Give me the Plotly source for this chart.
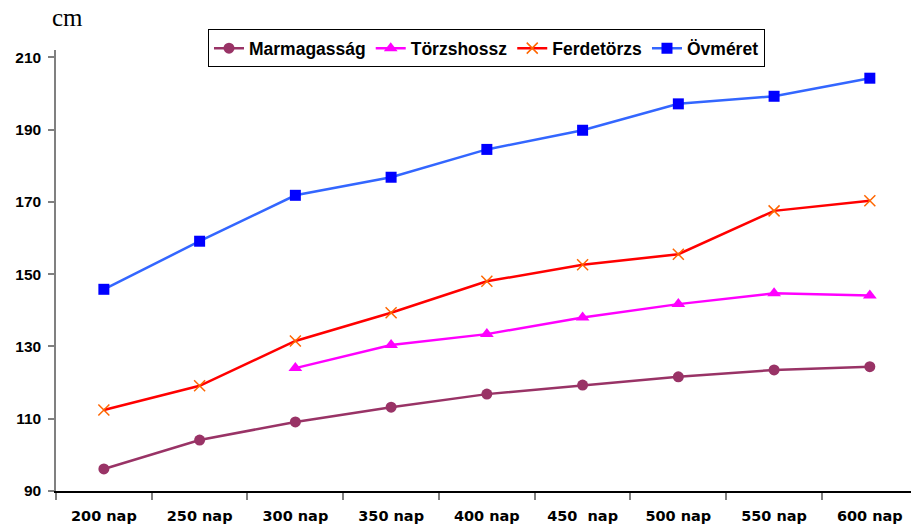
import plotly.graph_objects as go

# Categories (age in days) and measured body sizes in cm
days = ["200 nap", "250 nap", "300 nap", "350 nap", "400 nap",
        "450\u00a0 nap", "500 nap", "550 nap", "600 nap"]

marmagassag = [96.1, 104.1, 109.1, 113.2, 116.8, 119.3, 121.6, 123.5, 124.4]
torzshossz = [None, None, 124.0, 130.4, 133.4, 138.0, 141.7, 144.7, 144.1]
ferdetorzs = [112.4, 119.1, 131.5, 139.3, 148.0, 152.6, 155.5, 167.5, 170.3]
ovmeret = [145.8, 159.1, 171.8, 176.8, 184.5, 189.8, 197.1, 199.2, 204.2]

y_ticks = [90, 110, 130, 150, 170, 190, 210]

fig = go.Figure()

fig.add_trace(go.Scatter(
    x=days, y=marmagassag, name="Marmagasság", mode="lines+markers",
    line=dict(color="#993366", width=2.5),
    marker=dict(symbol="circle", size=11, color="#993366"),
))
fig.add_trace(go.Scatter(
    x=days, y=torzshossz, name="Törzshossz", mode="lines+markers",
    line=dict(color="#FF00FF", width=2.5),
    marker=dict(symbol="triangle-up", size=12, color="#FF00FF"),
))
fig.add_trace(go.Scatter(
    x=days, y=ferdetorzs, name="Ferdetörzs", mode="lines+markers",
    line=dict(color="#FF0000", width=2.5),
    marker=dict(symbol="x-thin", size=11, color="#FF6600",
                line=dict(color="#FF6600", width=1.5)),
))
fig.add_trace(go.Scatter(
    x=days, y=ovmeret, name="Övméret", mode="lines+markers",
    line=dict(color="#3366FF", width=2.5),
    marker=dict(symbol="square", size=11, color="#0000FF"),
))

fig.update_layout(
    width=911, height=531,
    margin=dict(l=56, r=0, t=50, b=40),
    paper_bgcolor="white", plot_bgcolor="white",
    font=dict(family="Liberation Sans, Arial, sans-serif", color="black"),
    legend=dict(
        orientation="h", x=0.5035, xanchor="center", y=1.047, yanchor="top",
        font=dict(size=17.5, weight="bold", color="black"),
        bordercolor="black", borderwidth=1, bgcolor="white",
        itemwidth=30, tracegroupgap=0,
    ),
    xaxis=dict(
        type="category", categoryorder="array", categoryarray=days,
        range=[-0.5, 8.43], tickson="boundaries",
        showline=True, linecolor="black", linewidth=1.5,
        ticks="outside", ticklen=7, tickcolor="#808080", tickwidth=1.5,
        ticklabelstandoff=11,
        tickfont=dict(family="DejaVu Sans, sans-serif", size=14.5,
                      weight="bold", color="black"),
        showgrid=False, zeroline=False,
    ),
    yaxis=dict(
        range=[90, 212], tickvals=y_ticks,
        showline=True, linecolor="#808080", linewidth=1.5,
        ticks="outside", ticklen=6, tickcolor="#808080", tickwidth=1.5,
        ticklabelstandoff=4,
        tickfont=dict(size=15.5, weight="bold", color="black"),
        showgrid=False, zeroline=False,
    ),
    annotations=[dict(
        text="cm", xref="paper", yref="paper", x=0.0138, y=1.0745,
        xanchor="center", yanchor="middle", showarrow=False,
        font=dict(family="Liberation Serif, Times New Roman, serif", size=25, color="black"),
    )],
)

fig.write_html("out.html")
